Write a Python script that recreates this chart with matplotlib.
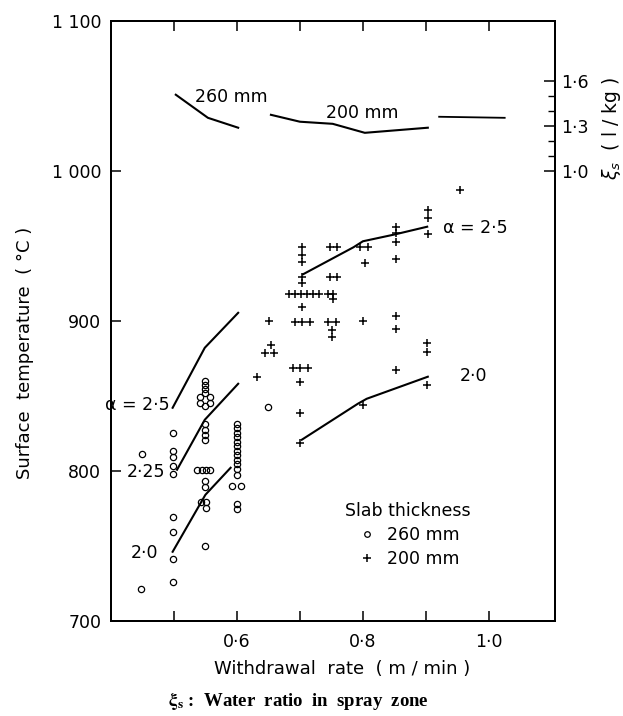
import matplotlib.pyplot as plt
from matplotlib.lines import Line2D
from matplotlib.ticker import FixedLocator, FixedFormatter

plt.rcParams['font.family'] = ['DejaVu Sans']

#%% DATA
# 260 mm slab, open circles
x260 = [0.449, 0.447,
        0.498, 0.498, 0.498, 0.498, 0.498, 0.498, 0.498, 0.498, 0.498,
        0.55, 0.55, 0.55, 0.55, 0.542, 0.558, 0.542, 0.558, 0.55,
        0.55, 0.55, 0.55, 0.55,
        0.537, 0.544, 0.551, 0.558,
        0.55, 0.55,
        0.543, 0.551, 0.551,
        0.549,
        0.6, 0.6, 0.6, 0.6, 0.6, 0.6, 0.6, 0.6, 0.6, 0.6, 0.6, 0.6,
        0.592, 0.607, 0.6, 0.6,
        0.649]
t260 = [811, 721,
        825, 813, 809, 803, 798, 769, 759, 741, 726,
        860, 857, 854.5, 852, 849, 849, 845.5, 845.5, 843,
        831, 827.5, 824, 820.5,
        800.5, 800.5, 800.5, 800.5,
        793, 789,
        779.5, 779.5, 775,
        750,
        831.5, 828.5, 825.5, 822.5, 819.5, 816.5, 813.5, 810.5, 807.5, 804.5, 801, 797,
        790, 790, 778, 774.5,
        842.5]

# 200 mm slab, plus signs
x200 = [0.632, 0.651, 0.645, 0.659, 0.654,
        0.703, 0.703, 0.703, 0.703, 0.703,
        0.683, 0.692, 0.702, 0.711, 0.721, 0.730,
        0.703, 0.692, 0.703, 0.716, 0.689, 0.700, 0.713,
        0.70, 0.70, 0.70,
        0.748, 0.759, 0.748, 0.759, 0.745, 0.753, 0.753, 0.745, 0.757, 0.751, 0.751,
        0.795, 0.808, 0.803, 0.80, 0.80,
        0.852, 0.852, 0.852, 0.852, 0.852, 0.852, 0.852,
        0.903, 0.903, 0.903, 0.902, 0.902, 0.902,
        0.954]
t200 = [862.7, 900, 878.7, 878.7, 884,
        949.3, 944, 939.3, 929.3, 925.3,
        918, 918, 918, 918, 918, 918,
        909.3, 899, 899, 899, 868.7, 868.7, 868.7,
        859.3, 838.7, 818.7,
        949.3, 949.3, 929.3, 929.3, 918, 918, 914.7, 899.3, 899.3, 894, 889.3,
        949.3, 949.3, 938.7, 900, 844,
        962.7, 958.7, 952.7, 941.3, 903.3, 894.7, 867.3,
        974, 968.7, 958, 885.3, 879.3, 857.3,
        987.3]

# constant alpha curves, 260 mm
a25_260_x = [0.498, 0.549, 0.602]
a25_260_t = [842, 882, 905.3]
a225_260_x = [0.505, 0.549, 0.602]
a225_260_t = [800.7, 834, 858]
a20_260_x = [0.498, 0.55, 0.59]
a20_260_t = [746, 784, 802]

# constant alpha curves, 200 mm
a25_200_x = [0.705, 0.785, 0.80, 0.85, 0.902]
a25_200_t = [931, 949, 953, 957.5, 962.7]
a20_200_x = [0.703, 0.792, 0.806, 0.903]
a20_200_t = [820.7, 844.7, 848, 862.7]

# water ratio xi_s (l/kg)
xi260_x = [0.503, 0.554, 0.602]
xi260_v = [1.507, 1.353, 1.287]
xi200_x = [0.654, 0.700, 0.752, 0.803, 0.903]
xi200_v = [1.373, 1.327, 1.313, 1.253, 1.287]
xi200b_x = [0.921, 1.025]
xi200b_v = [1.36, 1.353]

ytick_vals = [700, 800, 900, 1000, 1100]
ytick_labels = ['700', '800', '900', '1 000', '1 100']
xtick_vals = [0.5, 0.6, 0.7, 0.8, 0.9, 1.0]
xtick_labels = ['', '0·6', '', '0·8', '', '1·0']
xi_major = [1.0, 1.3, 1.6]
xi_labels = ['1·0', '1·3', '1·6']
xi_minor = [1.1, 1.2, 1.4, 1.5]

#%% PLOT
fig = plt.figure(figsize=(6.23, 7.16), dpi=100)
ax = fig.add_axes([0.178, 0.133, 0.713, 0.838])

ax.plot(x260, t260, 'o', mfc='none', mec='k', ms=4.5, mew=0.9, ls='none')
ax.plot(x200, t200, '+', color='k', ms=6, mew=1.1, ls='none')

for xs, ts in [(a25_260_x, a25_260_t), (a225_260_x, a225_260_t), (a20_260_x, a20_260_t),
               (a25_200_x, a25_200_t), (a20_200_x, a20_200_t)]:
    ax.plot(xs, ts, color='k', lw=1.5)

ax.set_xlim(0.4, 1.105)
ax.set_ylim(700, 1100)
ax.xaxis.set_major_locator(FixedLocator(xtick_vals))
ax.xaxis.set_major_formatter(FixedFormatter(xtick_labels))
ax.yaxis.set_major_locator(FixedLocator(ytick_vals))
ax.yaxis.set_major_formatter(FixedFormatter(ytick_labels))
ax.tick_params(direction='in', length=7, width=1.1, labelsize=12.5,
               top=True, right=True, labelright=False)
ax.tick_params(axis='x', pad=9)
ax.tick_params(axis='y', pad=7)
for s in ax.spines.values():
    s.set_linewidth(1.4)

ax.set_xlabel('Withdrawal  rate  ( m / min )', fontsize=13)
ax.xaxis.set_label_coords(0.52, -0.066)
ax.set_ylabel('Surface  temperature  ( °C )', fontsize=13)
ax.yaxis.set_label_coords(-0.172, 0.447)

# labels on the curves
ax.text(0.494, 844, 'α = 2·5', ha='right', va='center', fontsize=12.5)
ax.text(0.456, 799.3, '2·25', ha='center', va='center', fontsize=12.5)
ax.text(0.454, 745.3, '2·0', ha='center', va='center', fontsize=12.5)
ax.text(0.927, 962, 'α = 2·5', ha='left', va='center', fontsize=12.5)
ax.text(0.954, 863.3, '2·0', ha='left', va='center', fontsize=12.5)
ax.text(0.533, 1049.3, '260 mm', ha='left', va='center', fontsize=12.5)
ax.text(0.741, 1038.7, '200 mm', ha='left', va='center', fontsize=12.5)

# legend
handles = [Line2D([], [], marker='o', mfc='none', mec='k', ms=4, mew=0.9, ls='none'),
           Line2D([], [], marker='+', color='k', ms=6, mew=1.1, ls='none')]
leg = ax.legend(handles, ['260 mm', '200 mm'], title='Slab thickness', frameon=False,
                loc='center', bbox_to_anchor=(0.669, 0.143), fontsize=12.5,
                title_fontsize=12.5, handletextpad=0.6, labelspacing=0.35,
                handlelength=1.2)

#%% secondary axis for xi_s
ax2 = ax.twinx()
ax2.set_ylim(1 + (700 - 1000) / 100, 1 + (1100 - 1000) / 100)
ax2.plot(xi260_x, xi260_v, color='k', lw=1.5)
ax2.plot(xi200_x, xi200_v, color='k', lw=1.5)
ax2.plot(xi200b_x, xi200b_v, color='k', lw=1.3)
ax2.yaxis.set_major_locator(FixedLocator(xi_major))
ax2.yaxis.set_major_formatter(FixedFormatter(xi_labels))
ax2.yaxis.set_minor_locator(FixedLocator(xi_minor))
ax2.tick_params(which='major', direction='in', length=8, width=1.1, labelsize=12.5, pad=4)
ax2.tick_params(which='minor', direction='in', length=5, width=1.0)
for s in ax2.spines.values():
    s.set_linewidth(1.4)

fig.text(0.982, 0.821, r'$\xi_s$  ( l / kg )', rotation=90, ha='center', va='center',
         fontsize=13.5)

fig.text(0.479, 0.006, r'$\mathbf{\xi_s}$ :  Water  ratio  in  spray  zone',
         ha='center', va='bottom', fontsize=13.5, family='Liberation Serif',
         fontweight='bold', math_fontfamily='stix')

fig.savefig('out.png', dpi=100)
